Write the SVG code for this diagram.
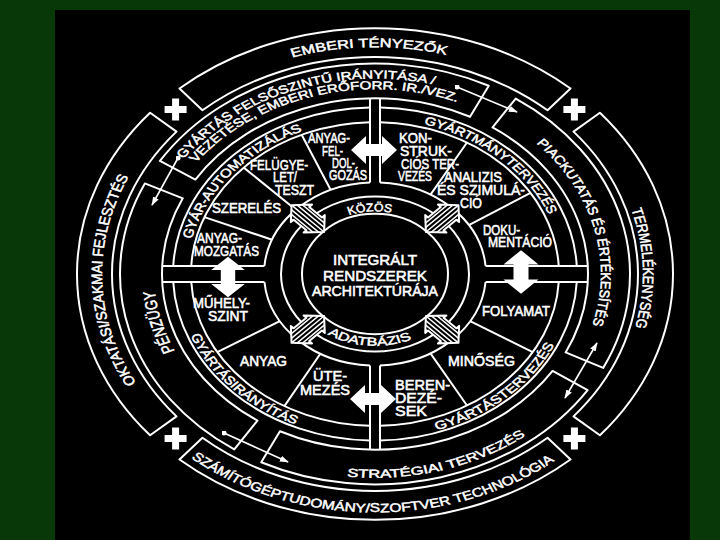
<svg xmlns="http://www.w3.org/2000/svg" width="720" height="540" viewBox="0 0 720 540">
<defs>
<style>
.ln{fill:none;stroke:#fff;stroke-width:2;vector-effect:non-scaling-stroke;stroke-linejoin:round}
.t{font-family:"Liberation Sans",Arial,sans-serif;fill:#fff;stroke:#fff;stroke-width:0.55}
.h{font-size:14px}
.c{font-size:14px}
.cb{font-size:15px}
.cp{font-size:17px}
.lk{fill:none;stroke:#fff;stroke-width:1.6}
.st{fill:none;stroke:#fff;stroke-width:1.5;vector-effect:non-scaling-stroke}
</style>
<marker id="ah" viewBox="0 0 10 10" refX="9" refY="5" markerWidth="9" markerHeight="9" markerUnits="userSpaceOnUse" orient="auto-start-reverse"><path d="M0,1.5L10,5L0,8.5Z" fill="#fff"/></marker>
<marker id="dt" viewBox="0 0 10 10" refX="5" refY="5" markerWidth="5" markerHeight="5" markerUnits="userSpaceOnUse"><circle cx="5" cy="5" r="5" fill="#fff"/></marker>
<path id="wa" d="M-23,0L-8,-14L-8,-6L8,-6L8,-14L23,0L8,14L8,6L-8,6L-8,14Z"/>
<clipPath id="hc"><path d="M-23,0L-9,-15L-9,-11L9,-11L9,-15L23,0L9,15L9,11L-9,11L-9,15Z"/></clipPath>
<g id="ha">
<path d="M-23,0L-9,-15L-9,-11L9,-11L9,-15L23,0L9,15L9,11L-9,11L-9,15Z" fill="#000"/>
<g clip-path="url(#hc)"><path class="st" d="M-23,-12H23M-23,-8H23M-23,-4H23M-23,0H23M-23,4H23M-23,8H23M-23,12H23"/></g>
<path class="ln" d="M-23,0L-9,-15L-9,-11L9,-11L9,-15L23,0L9,15L9,11L-9,11L-9,15Z"/>
</g>
<path id="plus" d="M-3.5,-11H3.5V-3.5H11V3.5H3.5V11H-3.5V3.5H-11V-3.5H-3.5Z"/>
<path id="p_emb" d="M-82.69,-262.27A275,275 0 0 1 73.49,-265"/>
<path id="p_gy1" d="M-191.74,-139.31A237,237 0 0 1 61.34,-228.92"/>
<path id="p_gy2" d="M-178.89,-134.81A224,224 0 0 1 83.91,-207.69"/>
<path id="p_auto" d="M-183.18,-42.29A188,188 0 0 1 -70.43,-174.31"/>
<path id="p_gym" d="M48.66,-181.59A188,188 0 0 1 174.31,-70.43"/>
<path id="p_gyt" d="M61.49,189.27A199,199 0 0 0 180.35,84.1"/>
<path id="p_gyi" d="M-184.51,74.55A199,199 0 0 0 -77.75,183.18"/>
<path id="p_pia" d="M161.2,-158.4A226,226 0 0 1 216.68,64.19"/>
<path id="p_str" d="M-27.96,245.42A247,247 0 0 0 152.07,194.64"/>
<path id="p_pen" d="M-200.30,93.40A221,221 0 0 1 -220.40,16.24"/>
<path id="p_okt" d="M-238.77,132.35A273,273 0 0 1 -245.37,-119.68"/>
<path id="p_ter" d="M256.29,-78.36A268,268 0 0 1 259.45,67.11"/>
<path id="p_sza" d="M-183.83,222.99A289,289 0 0 0 181.87,224.58"/>
<path id="p_koz" d="M-25.99,-71.42A76,76 0 0 1 17.1,-74.05"/>
<path id="p_ada" d="M-47.38,72.97A87,87 0 0 0 38.14,78.2"/>
</defs>
<rect width="720" height="540" fill="#083808"/>
<rect x="55" y="10" width="635" height="530" fill="#000"/>
<g transform="translate(375 274) scale(1 0.825)">
<g id="outer-emberi"><path class="ln" d="M195.52,-224.9A298,298 0 0 0 -195.52,-224.9L-172.55,-198.49A263,263 0 0 1 172.55,-198.49Z"/>
<text class="t cb"><textPath href="#p_emb" textLength="156" lengthAdjust="spacingAndGlyphs">EMBERI TÉNYEZŐK</textPath></text></g>
<g id="outer-oktatasi"><path class="ln" d="M-224.9,-195.52A298,298 0 0 0 -224.9,195.52L-198.49,172.55A263,263 0 0 1 -198.49,-172.55Z"/>
<text class="t cb"><textPath href="#p_okt" textLength="260" lengthAdjust="spacingAndGlyphs">OKTATÁSI/SZAKMAI FEJLESZTÉS</textPath></text></g>
<g id="outer-szamitogep"><path class="ln" d="M-195.52,224.9A298,298 0 0 0 195.52,224.9L172.55,198.49A263,263 0 0 1 -172.55,198.49Z"/>
<text class="t cb"><textPath href="#p_sza" textLength="393" lengthAdjust="spacingAndGlyphs">SZÁMÍTÓGÉPTUDOMÁNY/SZOFTVER TECHNOLÓGIA</textPath></text></g>
<g id="outer-termelekenyseg"><path class="ln" d="M224.9,195.52A298,298 0 0 0 224.9,-195.52L198.49,-172.55A263,263 0 0 1 198.49,172.55Z"/>
<text class="t cb"><textPath href="#p_ter" textLength="145" lengthAdjust="spacingAndGlyphs">TERMELÉKENYSÉG</textPath></text></g>
<g id="mid-felsoszintu"><path class="ln" d="M113.78,-228.2A255,255 0 0 0 -215.07,-137.01L-179.64,-114.44A213,213 0 0 1 95.04,-190.61Z"/>
<text class="t c"><textPath href="#p_gy1" textLength="283" lengthAdjust="spacingAndGlyphs">GYÁRTÁS FELSŐSZINTŰ IRÁNYITÁSA /</textPath></text>
<text class="t c"><textPath href="#p_gy2" textLength="291" lengthAdjust="spacingAndGlyphs">VEZETÉSE, EMBERI ERŐFORR. IR./VEZ.</textPath></text></g>
<g id="mid-penzugy"><path class="ln" d="M-230.16,-109.78A255,255 0 0 0 -140.73,212.64L-117.55,177.62A213,213 0 0 1 -192.25,-91.7Z"/>
<text class="t cp"><textPath href="#p_pen" textLength="76" lengthAdjust="spacingAndGlyphs">PÉNZÜGY</textPath></text></g>
<g id="mid-strategiai"><path class="ln" d="M-113.78,228.2A255,255 0 0 0 212.64,140.73L177.62,117.55A213,213 0 0 1 -95.04,190.61Z"/>
<text class="t c"><textPath href="#p_str" textLength="190" lengthAdjust="spacingAndGlyphs">STRATÉGIAI TERVEZÉS</textPath></text></g>
<g id="mid-piackutatas"><path class="ln" d="M228.2,113.78A255,255 0 0 0 140.73,-212.64L117.55,-177.62A213,213 0 0 1 190.61,95.04Z"/>
<text class="t c"><textPath href="#p_pia" textLength="238" lengthAdjust="spacingAndGlyphs">PIACKUTATÁS ÉS ÉRTÉKESÍTÉS</textPath></text></g>
<g id="quadrants">
<path class="ln" d="M-5,-212.94V-110.89M5,-212.94V-110.89M-5,110.89V212.94M5,110.89V212.94M-212.78,-9.7H-110.58M-212.78,9.7H-110.58M110.58,-9.7H212.78M110.58,9.7H212.78"/>
<path class="ln" d="M5,-201.94A202,202 0 0 1 201.77,-9.7M5,-183.93A184,184 0 0 1 183.74,-9.7M5,-110.89A111,111 0 0 1 110.58,-9.7"/>
<path class="ln" d="M-5,-201.94A202,202 0 0 0 -201.77,-9.7M-5,-183.93A184,184 0 0 0 -183.74,-9.7M-5,-110.89A111,111 0 0 0 -110.58,-9.7"/>
<path class="ln" d="M5,201.94A202,202 0 0 0 201.77,9.7M5,183.93A184,184 0 0 0 183.74,9.7M5,110.89A111,111 0 0 0 110.58,9.7"/>
<path class="ln" d="M-5,201.94A202,202 0 0 1 -201.77,9.7M-5,183.93A184,184 0 0 1 -183.74,9.7M-5,110.89A111,111 0 0 1 -110.58,9.7"/>
<path class="ln" d="M-44.26,-101.8L-73.36,-168.75M-79.18,-77.8L-131.25,-128.97M-102.92,-41.58L-170.6,-68.93M55.5,-96.13L92,-159.35M93.83,-59.32L155.54,-98.33M95.15,57.17L157.72,94.77M55.5,96.13L92,159.35M-95.15,57.17L-157.72,94.77M-54.66,96.61L-90.6,160.15"/>
<text class="t c"><textPath href="#p_auto" textLength="178" lengthAdjust="spacingAndGlyphs">GYÁR-AUTOMATIZÁLÁS</textPath></text>
<text class="t c"><textPath href="#p_gym" textLength="172" lengthAdjust="spacingAndGlyphs">GYÁRTMÁNYTERVEZÉS</textPath></text>
<text class="t c"><textPath href="#p_gyt" textLength="161" lengthAdjust="spacingAndGlyphs">GYÁRTÁSTERVEZÉS</textPath></text>
<text class="t c"><textPath href="#p_gyi" textLength="154" lengthAdjust="spacingAndGlyphs">GYÁRTÁSIRÁNYÍTÁS</textPath></text>
</g>
<g id="kozos-adatbazis">
<circle class="ln" r="94"/>
<text class="t c"><textPath href="#p_koz" textLength="43" lengthAdjust="spacingAndGlyphs">KÖZÖS</textPath></text>
<text class="t c"><textPath href="#p_ada" textLength="88" lengthAdjust="spacingAndGlyphs">ADATBÁZIS</textPath></text>
</g>
<g id="hatched-arrows">
<use href="#ha" transform="rotate(-45) translate(95 0)"/>
<use href="#ha" transform="rotate(-135) translate(95 0)"/>
<use href="#ha" transform="rotate(135) translate(95 0)"/>
<use href="#ha" transform="rotate(45) translate(95 0)"/>
</g>
<g id="center-node"><circle class="ln" r="73"/></g>
</g>
<g id="center-label">
<text class="t h" x="375" y="265" text-anchor="middle" textLength="84" lengthAdjust="spacingAndGlyphs">INTEGRÁLT</text>
<text class="t h" x="375" y="281" text-anchor="middle" textLength="104" lengthAdjust="spacingAndGlyphs">RENDSZEREK</text>
<text class="t h" x="375" y="296" text-anchor="middle" textLength="126" lengthAdjust="spacingAndGlyphs">ARCHITEKTÚRÁJA</text>
</g>
<g id="seg-anyagfeldolgozas">
<text class="t h" x="308" y="143" textLength="42" lengthAdjust="spacingAndGlyphs">ANYAG-</text>
<text class="t h" x="322" y="156" textLength="21" lengthAdjust="spacingAndGlyphs">FEL-</text>
<text class="t h" x="332" y="168" textLength="23" lengthAdjust="spacingAndGlyphs">DOL-</text>
<text class="t h" x="329" y="180" textLength="38" lengthAdjust="spacingAndGlyphs">GOZÁS</text>
</g>
<g id="seg-felugyelet">
<text class="t h" x="250" y="170" textLength="58" lengthAdjust="spacingAndGlyphs">FELÜGYE-</text>
<text class="t h" x="273" y="182" textLength="24" lengthAdjust="spacingAndGlyphs">LET/</text>
<text class="t h" x="275" y="195" textLength="39" lengthAdjust="spacingAndGlyphs">TESZT</text>
</g>
<g id="seg-szereles"><text class="t h" x="212" y="213" textLength="69" lengthAdjust="spacingAndGlyphs">SZERELÉS</text></g>
<g id="seg-anyagmozgatas">
<text class="t h" x="197" y="243" textLength="45" lengthAdjust="spacingAndGlyphs">ANYAG-</text>
<text class="t h" x="194" y="256" textLength="65" lengthAdjust="spacingAndGlyphs">MOZGATÁS</text>
</g>
<g id="seg-konstrukcios">
<text class="t h" x="399" y="143" textLength="33" lengthAdjust="spacingAndGlyphs">KON-</text>
<text class="t h" x="400" y="156" textLength="52" lengthAdjust="spacingAndGlyphs">STRUK-</text>
<text class="t h" x="401" y="169" textLength="58" lengthAdjust="spacingAndGlyphs">CIÓS TER-</text>
<text class="t h" x="398" y="181" textLength="34" lengthAdjust="spacingAndGlyphs">VEZÉS</text>
</g>
<g id="seg-analizis">
<text class="t h" x="444" y="182" textLength="58" lengthAdjust="spacingAndGlyphs">ANALIZIS</text>
<text class="t h" x="437" y="195" textLength="88" lengthAdjust="spacingAndGlyphs">ÉS SZIMULÁ-</text>
<text class="t h" x="460" y="208" textLength="22" lengthAdjust="spacingAndGlyphs">CIÓ</text>
</g>
<g id="seg-dokumentacio">
<text class="t h" x="483" y="235" textLength="37" lengthAdjust="spacingAndGlyphs">DOKU-</text>
<text class="t h" x="488" y="247" textLength="64" lengthAdjust="spacingAndGlyphs">MENTÁCIÓ</text>
</g>
<g id="seg-folyamat"><text class="t h" x="482" y="316" textLength="68" lengthAdjust="spacingAndGlyphs">FOLYAMAT</text></g>
<g id="seg-minoseg"><text class="t h" x="448" y="366" textLength="67" lengthAdjust="spacingAndGlyphs">MINŐSÉG</text></g>
<g id="seg-berendezesek">
<text class="t h" x="395" y="390" textLength="55" lengthAdjust="spacingAndGlyphs">BEREN-</text>
<text class="t h" x="395" y="403" textLength="47" lengthAdjust="spacingAndGlyphs">DEZÉ-</text>
<text class="t h" x="395" y="416" textLength="32" lengthAdjust="spacingAndGlyphs">SEK</text>
</g>
<g id="seg-muhelyszint">
<text class="t h" x="193" y="308" textLength="57" lengthAdjust="spacingAndGlyphs">MŰHELY-</text>
<text class="t h" x="208" y="321" textLength="40" lengthAdjust="spacingAndGlyphs">SZINT</text>
</g>
<g id="seg-anyag"><text class="t h" x="240" y="366" textLength="47" lengthAdjust="spacingAndGlyphs">ANYAG</text></g>
<g id="seg-utemezes">
<text class="t h" x="313" y="381" textLength="34" lengthAdjust="spacingAndGlyphs">ÜTE-</text>
<text class="t h" x="300" y="395" textLength="50" lengthAdjust="spacingAndGlyphs">MEZÉS</text>
</g>
<g id="connectors">
<use href="#wa" fill="#fff" transform="translate(374 150)"/>
<use href="#wa" fill="#fff" transform="translate(373 399)"/>
<use href="#wa" fill="#fff" transform="translate(228 277) rotate(90) scale(0.88 1.2)"/>
<use href="#wa" fill="#fff" transform="translate(521 272) rotate(90) scale(0.95 1.25)"/>
<line class="lk" x1="178" y1="158" x2="152" y2="205" marker-start="url(#dt)" marker-end="url(#ah)"/>
<line class="lk" x1="457" y1="87" x2="517" y2="112" marker-start="url(#dt)" marker-end="url(#ah)"/>
<line class="lk" x1="597" y1="343" x2="565" y2="398" marker-start="url(#ah)" marker-end="url(#ah)"/>
<line class="lk" x1="224" y1="433" x2="288" y2="462" marker-start="url(#dt)" marker-end="url(#ah)"/>
</g>
<g id="crosses" fill="#fff">
<use href="#plus" transform="translate(574.4 109.5)"/>
<use href="#plus" transform="translate(175.6 109.5)"/>
<use href="#plus" transform="translate(175.6 438.5)"/>
<use href="#plus" transform="translate(574.4 438.5)"/>
</g>
</svg>
